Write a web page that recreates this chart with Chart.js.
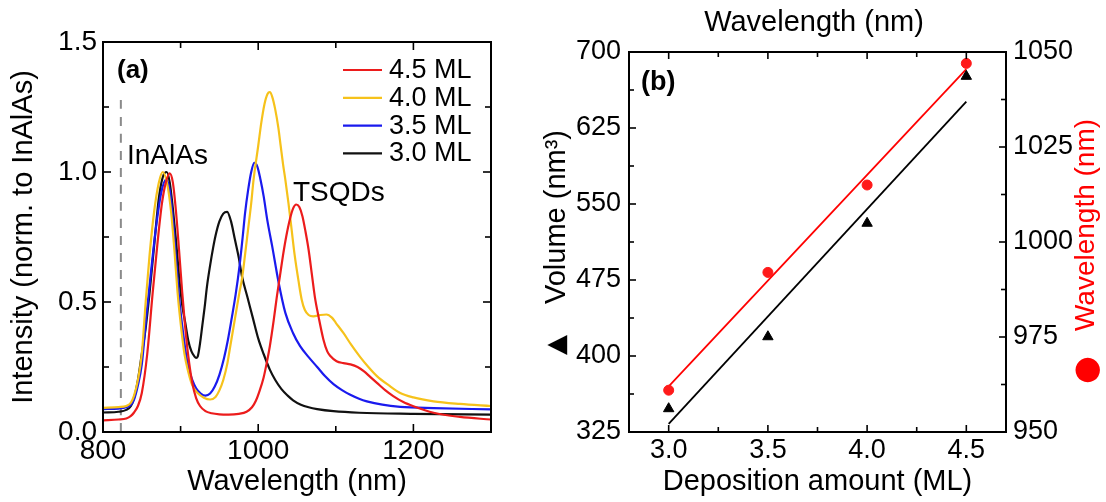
<!DOCTYPE html>
<html><head><meta charset="utf-8">
<script src="https://cdn.jsdelivr.net/npm/chart.js@4.4.1/dist/chart.umd.min.js"></script>
<style>
html,body{margin:0;padding:0;background:#fff;width:1106px;height:502px;overflow:hidden}
#wa{position:absolute;left:0;top:0;width:540px;height:502px}
#wb{position:absolute;left:540px;top:0;width:566px;height:502px}
</style></head><body>
<div id="wa"><canvas id="ca"></canvas></div>
<div id="wb"><canvas id="cb"></canvas></div>
<script>
// ---------- Panel (a): PL spectra ----------
const wl45 = [800,820,830,836,840,845,850,857,864,870,876,881,886,890,894,898,902,906,910,915,920,925,932,940,950,962,975,985,992,997,1002,1007,1011,1015,1020,1024,1028,1032,1036,1041,1045,1049,1053,1057,1061,1065,1069,1073,1078,1084,1089,1093,1101,1110,1119,1128,1136,1145,1153,1164,1174,1187,1200,1226,1260,1300];
const in45 = [0.045,0.048,0.052,0.062,0.075,0.1,0.15,0.3,0.535,0.72,0.88,0.96,0.995,0.96,0.85,0.7,0.54,0.4,0.29,0.19,0.13,0.1,0.08,0.072,0.068,0.067,0.07,0.078,0.095,0.12,0.16,0.21,0.266,0.33,0.43,0.52,0.6,0.68,0.75,0.82,0.86,0.875,0.865,0.83,0.77,0.7,0.61,0.52,0.44,0.356,0.31,0.292,0.272,0.265,0.26,0.25,0.234,0.21,0.189,0.16,0.138,0.115,0.099,0.074,0.058,0.048];

const wl40 = [800,820,830,836,840,845,850,855,860,866,872,877,883,888,892,896,900,905,910,915,922,930,938,945,950,955,960,964,968,972,976,979,983,987,991,994,1000,1004,1008,1012,1015,1018,1022,1026,1029,1032,1035,1039,1043,1047,1052,1056,1060,1065,1071,1080,1088,1095,1100,1110,1120,1131,1142,1153,1168,1183,1200,1226,1260,1300];
const in40 = [0.093,0.096,0.1,0.113,0.14,0.2,0.3,0.5,0.68,0.85,0.96,1.0,0.95,0.84,0.7,0.54,0.42,0.3,0.23,0.18,0.15,0.132,0.125,0.135,0.16,0.2,0.26,0.33,0.4,0.47,0.54,0.587,0.68,0.78,0.88,0.97,1.1,1.19,1.26,1.3,1.307,1.29,1.24,1.17,1.1,1.03,0.97,0.88,0.78,0.68,0.58,0.51,0.47,0.45,0.445,0.45,0.452,0.44,0.42,0.38,0.335,0.29,0.25,0.215,0.18,0.15,0.133,0.118,0.108,0.1];

const wl35 = [800,820,830,836,840,845,850,856,862,868,875,881,886,890,894,898,902,906,910,915,920,926,932,938,944,950,956,961,966,971,976,980,983,987,991,995,999,1003,1007,1012,1018,1026,1035,1045,1054,1065,1076,1086,1097,1108,1118,1130,1140,1160,1183,1226,1300];
const in35 = [0.088,0.09,0.095,0.105,0.125,0.18,0.26,0.45,0.62,0.78,0.92,0.97,0.93,0.82,0.67,0.52,0.41,0.32,0.25,0.2,0.168,0.148,0.14,0.148,0.175,0.22,0.285,0.355,0.44,0.53,0.64,0.75,0.84,0.93,1.0,1.035,1.02,0.97,0.907,0.81,0.715,0.58,0.458,0.38,0.33,0.288,0.25,0.215,0.184,0.161,0.144,0.128,0.118,0.105,0.097,0.092,0.087];

const wl30 = [800,820,830,836,840,845,850,855,860,866,872,877,882,886,890,894,898,902,906,910,914,918,920,922,925,928,931,934,938,942,945,950,955,960,965,970,975,979,986,993,1000,1007,1015,1022,1030,1038,1045,1055,1065,1076,1097,1130,1200,1300];
const in30 = [0.075,0.078,0.085,0.1,0.13,0.2,0.3,0.4,0.535,0.72,0.9,0.98,1.0,0.96,0.86,0.74,0.6,0.49,0.42,0.35,0.31,0.29,0.285,0.29,0.34,0.41,0.48,0.56,0.64,0.71,0.755,0.81,0.84,0.847,0.81,0.74,0.67,0.6,0.52,0.44,0.36,0.3,0.24,0.2,0.165,0.14,0.122,0.105,0.095,0.088,0.08,0.074,0.07,0.067];

const seriesLabels = ['4.5 ML','4.0 ML','3.5 ML','3.0 ML'];
const seriesColors = ['#ec1c1c','#f6c21b','#1a1aee','#111111'];
const cutoffWl = [823, 823];
const cutoffI = [0, 1.29];
const xTickMarksA = [800,900,1000,1100,1200,1300];
const xTickLabelsA = [800,1000,1200];
const yTickMarksA = [0,0.25,0.5,0.75,1.0,1.25,1.5];
const yTickLabelsA = [0,0.5,1.0,1.5];

// ---------- Panel (b): volume / wavelength vs deposition ----------
const deposition = [3.0,3.5,4.0,4.5];
const volume = [348,419,531,676];
const peakWavelength = [961,992,1015,1047];
const fitDeposition = [3.0,4.5];
const volumeFit = [333,651];
const wavelengthFit = [962,1045.5];
const xTickMarksB = [3.0,3.25,3.5,3.75,4.0,4.25,4.5];
const xTickLabelsB = [3.0,3.5,4.0,4.5];
const yTickMarksB = [325,362.5,400,437.5,475,512.5,550,587.5,625,662.5,700];
const yTickLabelsB = [325,400,475,550,625,700];
const y2TickMarksB = [950,962.5,975,987.5,1000,1012.5,1025,1037.5,1050];
const y2TickLabelsB = [950,975,1000,1025,1050];

const FONT = "'Liberation Sans', Arial, Helvetica, sans-serif";
Chart.defaults.font.family = FONT;
Chart.defaults.color = '#000';
const pts = (xs, ys) => xs.map((x, i) => ({x: x, y: ys[i]}));

const frameTicks = {
  id: 'frameTicks',
  afterDatasetsDraw(chart, args, o) {
    const {ctx, chartArea: a, scales} = chart;
    ctx.save();
    ctx.strokeStyle = '#000';
    ctx.lineWidth = 1.6;
    const seg = (x1, y1, x2, y2) => { ctx.beginPath(); ctx.moveTo(x1, y1); ctx.lineTo(x2, y2); ctx.stroke(); };
    o.x.forEach(v => { const p = scales.x.getPixelForValue(v); const L = o.xMajor.includes(v) ? o.major : o.minor; seg(p, a.bottom, p, a.bottom - L); seg(p, a.top, p, a.top + L); });
    o.yl.forEach(v => { const p = scales.y.getPixelForValue(v); const L = o.ylMajor.includes(v) ? o.major : o.minor; seg(a.left, p, a.left + L, p); if (!o.yr) seg(a.right, p, a.right - L, p); });
    if (o.yr) o.yr.forEach(v => { const p = scales.y2.getPixelForValue(v); const L = o.yrMajor.includes(v) ? o.major : o.minor; seg(a.right, p, a.right - L, p); });
    ctx.lineWidth = 2;
    ctx.strokeRect(a.left, a.top, a.right - a.left, a.bottom - a.top);
    ctx.restore();
  }
};

const annotA = {
  id: 'annotA',
  afterDraw(chart) {
    const ctx = chart.ctx;
    ctx.save();
    ctx.fillStyle = '#000'; ctx.textAlign = 'left'; ctx.textBaseline = 'alphabetic';
    ctx.font = 'bold 26px ' + FONT; ctx.fillText('(a)', 117, 78);
    ctx.font = '28px ' + FONT; ctx.fillText('InAlAs', 127, 164); ctx.fillText('TSQDs', 293, 201);
    ctx.font = '27px ' + FONT;
    for (let i = 0; i < 4; i++) {
      const y = 70 + i * 27.8;
      ctx.strokeStyle = seriesColors[i]; ctx.lineWidth = 2.2;
      ctx.beginPath(); ctx.moveTo(343, y); ctx.lineTo(382, y); ctx.stroke();
      ctx.fillText(seriesLabels[i], 389, y + 8);
    }
    ctx.restore();
  }
};

const annotB = {
  id: 'annotB',
  afterDraw(chart) {
    const ctx = chart.ctx;
    ctx.save();
    ctx.fillStyle = '#000'; ctx.textAlign = 'left'; ctx.textBaseline = 'alphabetic';
    ctx.font = 'bold 27px ' + FONT; ctx.fillText('(b)', 101, 90);
    ctx.textAlign = 'center';
    ctx.font = '29px ' + FONT; ctx.fillText('Wavelength (nm)', 274, 31);
    const rot = (txt, cx, cy, font, color) => {
      ctx.save(); ctx.translate(cx, cy); ctx.rotate(-Math.PI / 2);
      ctx.font = font; ctx.fillStyle = color; ctx.textAlign = 'center'; ctx.textBaseline = 'middle';
      ctx.fillText(txt, 0, 0); ctx.restore();
    };
    rot('Volume (nm\u00B3)', 17, 217, '29px ' + FONT, '#000');
    rot('\u25B2', 17, 345, "26px 'DejaVu Sans', " + FONT, '#000');
    rot('Wavelength (nm)', 546, 225, '28px ' + FONT, '#ff0000');
    rot('\u25CF', 548, 370, "32px 'DejaVu Sans', " + FONT, '#ff0000');
    ctx.restore();
  }
};

new Chart(document.getElementById('ca'), {
  type: 'line',
  data: {
    datasets: [
      {label: seriesLabels[0], data: pts(wl45, in45), borderColor: seriesColors[0]},
      {label: seriesLabels[1], data: pts(wl40, in40), borderColor: seriesColors[1]},
      {label: seriesLabels[2], data: pts(wl35, in35), borderColor: seriesColors[2]},
      {label: seriesLabels[3], data: pts(wl30, in30), borderColor: seriesColors[3]},
      {label: 'cutoff', data: pts(cutoffWl, cutoffI), borderColor: '#8a8a8a', borderDash: [9, 8], borderWidth: 2}
    ]
  },
  options: {
    responsive: true, maintainAspectRatio: false, animation: false, devicePixelRatio: 1,
    layout: {padding: {left: 0, top: 42, right: 49, bottom: 0}},
    elements: {point: {radius: 0}, line: {borderWidth: 2.2, cubicInterpolationMode: 'monotone', fill: false}},
    plugins: {
      legend: {display: false}, tooltip: {enabled: false},
      frameTicks: {x: xTickMarksA, xMajor: xTickLabelsA, yl: yTickMarksA, ylMajor: yTickLabelsA, major: 8, minor: 6}
    },
    scales: {
      x: {type: 'linear', min: 800, max: 1300,
        afterBuildTicks: s => { s.ticks = xTickLabelsA.map(v => ({value: v})); },
        afterFit: s => { s.height = 70; },
        grid: {display: false, drawTicks: false}, border: {display: false},
        ticks: {font: {size: 28}, padding: 2, maxRotation: 0, autoSkip: false, callback: v => String(v)},
        title: {display: true, text: 'Wavelength (nm)', font: {size: 29}, padding: {top: 0, bottom: 3}}},
      y: {type: 'linear', min: 0, max: 1.5,
        afterBuildTicks: s => { s.ticks = yTickLabelsA.map(v => ({value: v})); },
        afterFit: s => { s.width = 103; },
        grid: {display: false, drawTicks: false}, border: {display: false},
        ticks: {font: {size: 28}, padding: 6, autoSkip: false, callback: v => Number(v).toFixed(1)},
        title: {display: true, text: 'Intensity (norm. to InAlAs)', font: {size: 29}, padding: {top: 7, bottom: 0}}}
    }
  },
  plugins: [frameTicks, annotA]
});

new Chart(document.getElementById('cb'), {
  type: 'line',
  data: {
    datasets: [
      {label: 'Wavelength', data: pts(deposition, peakWavelength), yAxisID: 'y2', showLine: false,
        pointStyle: 'circle', pointRadius: 5, pointBackgroundColor: '#ff1a1a', pointBorderColor: '#ff1a1a', pointBorderWidth: 1},
      {label: 'Volume', data: pts(deposition, volume), yAxisID: 'y', showLine: false,
        pointStyle: 'triangle', pointRadius: 6, pointBackgroundColor: '#000', pointBorderColor: '#000', pointBorderWidth: 1},
      {label: 'Wavelength fit', data: pts(fitDeposition, wavelengthFit), yAxisID: 'y2', borderColor: '#ff0000', borderWidth: 1.8, pointRadius: 0},
      {label: 'Volume fit', data: pts(fitDeposition, volumeFit), yAxisID: 'y', borderColor: '#000', borderWidth: 1.8, pointRadius: 0}
    ]
  },
  options: {
    responsive: true, maintainAspectRatio: false, animation: false, devicePixelRatio: 1,
    layout: {padding: {left: 0, top: 52, right: 0, bottom: 0}},
    plugins: {
      legend: {display: false}, tooltip: {enabled: false},
      frameTicks: {x: xTickMarksB, xMajor: xTickLabelsB, yl: yTickMarksB, ylMajor: yTickLabelsB, yr: y2TickMarksB, yrMajor: y2TickLabelsB, major: 7, minor: 5}
    },
    scales: {
      x: {type: 'linear', min: 2.8, max: 4.7,
        afterBuildTicks: s => { s.ticks = xTickLabelsB.map(v => ({value: v})); },
        afterFit: s => { s.height = 70; },
        grid: {display: false, drawTicks: false}, border: {display: false},
        ticks: {font: {size: 27}, padding: 2, maxRotation: 0, autoSkip: false, callback: v => Number(v).toFixed(1)},
        title: {display: true, text: 'Deposition amount (ML)', font: {size: 29}, padding: {top: 0, bottom: 3}}},
      y: {type: 'linear', position: 'left', min: 325, max: 700,
        afterBuildTicks: s => { s.ticks = yTickLabelsB.map(v => ({value: v})); },
        afterFit: s => { s.width = 89; },
        grid: {display: false, drawTicks: false}, border: {display: false},
        ticks: {font: {size: 27}, padding: 8, autoSkip: false, callback: v => String(v)}},
      y2: {type: 'linear', position: 'right', min: 950, max: 1050,
        afterBuildTicks: s => { s.ticks = y2TickLabelsB.map(v => ({value: v})); },
        afterFit: s => { s.width = 100; },
        grid: {display: false, drawTicks: false}, border: {display: false},
        ticks: {font: {size: 27}, padding: 7, autoSkip: false, callback: v => String(v)}}
    }
  },
  plugins: [frameTicks, annotB]
});
</script>
</body></html>
